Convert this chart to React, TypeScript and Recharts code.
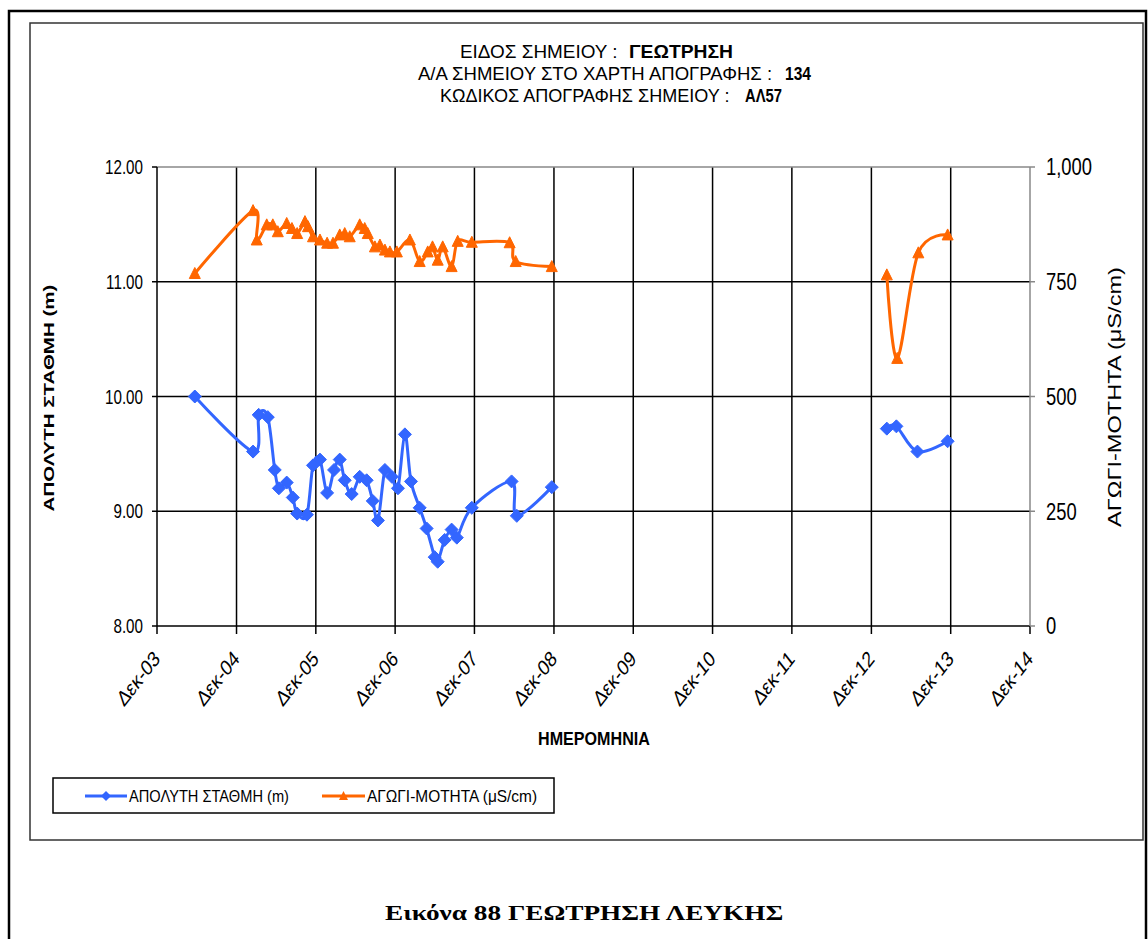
import React from 'react';
import { LineChart, Line, XAxis, YAxis, CartesianGrid, ReferenceLine, Label } from 'recharts';

// ---------- DATA ----------
const levelDates = [
  '2004-05-23', '2005-02-15', '2005-03-13', '2005-04-24', '2005-05-26', '2005-06-14', '2005-07-20',
  '2005-08-17', '2005-09-06', '2005-10-21', '2005-11-18', '2005-12-20', '2006-01-22', '2006-02-23',
  '2006-03-21', '2006-04-13', '2006-05-15', '2006-06-21', '2006-07-23', '2006-08-20', '2006-09-13',
  '2006-10-15', '2006-11-16', '2006-12-14', '2007-01-15', '2007-02-12', '2007-03-24', '2007-04-25',
  '2007-06-01', '2007-06-15', '2007-07-17', '2007-08-18', '2007-09-11', '2007-11-19', '2008-05-20',
  '2008-06-13', '2008-11-21', '2010-06-01', '2013-02-10', '2013-03-26', '2013-07-01', '2013-11-17',
];
const levelValues: (number | null)[] = [
  10.0, 9.52, 9.84, 9.82, 9.36, 9.2, 9.25,
  9.12, 8.98, 8.97, 9.4, 9.45, 9.16, 9.36,
  9.45, 9.27, 9.15, 9.3, 9.27, 9.09, 8.92,
  9.36, 9.3, 9.2, 9.67, 9.26, 9.03, 8.85,
  8.6, 8.56, 8.75, 8.84, 8.77, 9.03, 9.26,
  8.96, 9.21, null, 9.72, 9.74, 9.52, 9.61,
];

const condDates = [
  '2004-05-23', '2005-02-15', '2005-03-04', '2005-04-19', '2005-05-17', '2005-06-09', '2005-07-20',
  '2005-08-13', '2005-09-06', '2005-10-12', '2005-10-26', '2005-11-18', '2005-12-20', '2006-01-22',
  '2006-02-18', '2006-03-21', '2006-04-13', '2006-05-06', '2006-06-21', '2006-07-14', '2006-07-28',
  '2006-08-30', '2006-09-22', '2006-10-15', '2006-11-07', '2006-12-09', '2007-02-07', '2007-03-24',
  '2007-04-30', '2007-05-22', '2007-06-15', '2007-07-08', '2007-08-18', '2007-09-15', '2007-11-19',
  '2008-05-11', '2008-06-08', '2008-11-21', '2010-06-01', '2013-02-10', '2013-03-30', '2013-07-05',
  '2013-11-17',
];
const condValues: (number | null)[] = [
  768, 905, 841, 874, 874, 859, 877,
  866, 855, 881, 870, 848, 841, 834,
  834, 852, 855, 848, 874, 866, 855,
  826, 830, 819, 815, 815, 841, 794,
  815, 826, 797, 826, 783, 838, 836,
  835, 794, 783, null, 765, 583, 813,
  852,
];

const xTickDates = [
  '2003-12-01', '2004-12-01', '2005-12-01', '2006-12-01', '2007-12-01', '2008-12-01',
  '2009-12-01', '2010-12-01', '2011-12-01', '2012-12-01', '2013-12-01', '2014-12-01',
];
const xTickLabels = [
  'Δεκ-03', 'Δεκ-04', 'Δεκ-05', 'Δεκ-06', 'Δεκ-07', 'Δεκ-08',
  'Δεκ-09', 'Δεκ-10', 'Δεκ-11', 'Δεκ-12', 'Δεκ-13', 'Δεκ-14',
];
const leftTicks = [8, 9, 10, 11, 12];
const rightTicks = [0, 250, 500, 750, 1000];
const gridLeftValues = [9, 10, 11];

const titleLine1 = ['ΕΙΔΟΣ ΣΗΜΕΙΟΥ :', 'ΓΕΩΤΡΗΣΗ'];
const titleLine2 = ['Α/Α ΣΗΜΕΙΟΥ ΣΤΟ ΧΑΡΤΗ ΑΠΟΓΡΑΦΗΣ  :', '134'];
const titleLine3 = ['ΚΩΔΙΚΟΣ ΑΠΟΓΡΑΦΗΣ  ΣΗΜΕΙΟΥ :', 'ΑΛ57'];
const leftAxisTitle = 'ΑΠΟΛΥΤΗ ΣΤΑΘΜΗ (m)';
const rightAxisTitle = 'ΑΓΩΓΙ-ΜΟΤΗΤΑ  (μS/cm)';
const xAxisTitle = 'ΗΜΕΡΟΜΗΝΙΑ';
const legendLevel = 'ΑΠΟΛΥΤΗ ΣΤΑΘΜΗ (m)';
const legendCond = 'ΑΓΩΓΙ-ΜΟΤΗΤΑ (μS/cm)';
const caption = 'Εικόνα 88 ΓΕΩΤΡΗΣΗ ΛΕΥΚΗΣ';

// ---------- HELPERS ----------
const FONT = '"Liberation Sans", Arial, sans-serif';
const SERIF = '"Liberation Serif", "Times New Roman", serif';
const SQ = 0.76;
const BLUE = '#3366FF';
const ORANGE = '#FF6600';

const toTs = (s: string) => {
  const [y, m, d] = s.split('-').map(Number);
  return Date.UTC(y, m - 1, d);
};

const levelData = levelDates.map((d, i) => ({ t: toTs(d), level: levelValues[i] }));
const condData = condDates.map((d, i) => ({ t: toTs(d), cond: condValues[i] }));
const xTicks = xTickDates.map(toTs);

let measureCtx: CanvasRenderingContext2D | null = null;
const measure = (text: string, size: number, weight: string, family: string) => {
  if (!measureCtx) {
    const c = document.createElement('canvas');
    measureCtx = c.getContext('2d');
  }
  if (!measureCtx) return text.length * size * 0.6;
  measureCtx.font = `${weight} ${size}px ${family}`;
  return measureCtx.measureText(text).width;
};

// text squeezed/stretched horizontally to a target width (Excel-like condensed look)
const FitText = ({ text, x, y, width, size, weight = 'normal', family = FONT, anchor = 'start' }:
  { text: string; x: number; y: number; width: number; size: number; weight?: string; family?: string; anchor?: string }) => {
  const natural = measure(text, size, weight, family);
  const s = natural > 0 ? width / natural : 1;
  return (
    <g transform={`translate(${x},${y}) scale(${s},1)`}>
      <text x={0} y={0} fontSize={size} fontWeight={weight} fontFamily={family} fill="#000" textAnchor={anchor as any}>
        {text}
      </text>
    </g>
  );
};

// vertical (rotated) text of a given length, with a horizontal squeeze of its thickness
const VertText = ({ text, cx, cy, length, size, weight = 'normal' }:
  { text: string; cx: number; cy: number; length: number; size: number; weight?: string }) => {
  const natural = measure(text, size, weight, FONT);
  const s = natural > 0 ? length / natural : 1;
  return (
    <g transform={`translate(${cx},${cy}) scale(${SQ},1) rotate(-90) scale(${s},1)`}>
      <text x={0} y={0} textAnchor="middle" fontSize={size} fontWeight={weight} fontFamily={FONT} fill="#000">
        {text}
      </text>
    </g>
  );
};

// Excel-like smoothed line (uniform Catmull-Rom / cardinal with tension 0), as a d3 curve factory
function smoothCurve(context: any) {
  const k = 1 / 6;
  const s: any = {
    _context: context,
    _line: undefined as any,
    _point: 0,
    _x0: NaN, _x1: NaN, _x2: NaN, _y0: NaN, _y1: NaN, _y2: NaN,
  };
  const bez = (x: number, y: number) => {
    s._context.bezierCurveTo(
      s._x1 + k * (s._x2 - s._x0),
      s._y1 + k * (s._y2 - s._y0),
      s._x2 + k * (s._x1 - x),
      s._y2 + k * (s._y1 - y),
      s._x2,
      s._y2,
    );
  };
  s.areaStart = () => { s._line = 0; };
  s.areaEnd = () => { s._line = NaN; };
  s.lineStart = () => {
    s._x0 = s._x1 = s._x2 = s._y0 = s._y1 = s._y2 = NaN;
    s._point = 0;
  };
  s.lineEnd = () => {
    switch (s._point) {
      case 2: s._context.lineTo(s._x2, s._y2); break;
      case 3: bez(s._x1, s._y1); break;
      default: break;
    }
    if (s._line || (s._line !== 0 && s._point === 1)) s._context.closePath();
    s._line = 1 - s._line;
  };
  s.point = (xx: any, yy: any) => {
    const x = +xx;
    const y = +yy;
    switch (s._point) {
      case 0:
        s._point = 1;
        if (s._line) s._context.lineTo(x, y); else s._context.moveTo(x, y);
        break;
      case 1:
        s._point = 2;
        s._x1 = x; s._y1 = y;
        break;
      case 2:
        s._point = 3;
        bez(x, y);
        break;
      default:
        bez(x, y);
        break;
    }
    s._x0 = s._x1; s._x1 = s._x2; s._x2 = x;
    s._y0 = s._y1; s._y1 = s._y2; s._y2 = y;
  };
  return s;
}

const Diamond = (props: any) => {
  const { cx, cy, index, value } = props;
  if (cx == null || cy == null || value == null || Number.isNaN(cy)) return <g key={`dm${index}`} />;
  const r = 6.5;
  return (
    <polygon
      key={`dm${index}`}
      points={`${cx},${cy - r} ${cx + r},${cy} ${cx},${cy + r} ${cx - r},${cy}`}
      fill={BLUE}
      stroke={BLUE}
      strokeWidth={1}
    />
  );
};

const Triangle = (props: any) => {
  const { cx, cy, index, value } = props;
  if (cx == null || cy == null || value == null || Number.isNaN(cy)) return <g key={`tr${index}`} />;
  const w = 5.5;
  const h = 6;
  return (
    <polygon
      key={`tr${index}`}
      points={`${cx},${cy - h} ${cx + w},${cy + h - 1} ${cx - w},${cy + h - 1}`}
      fill={ORANGE}
      stroke={ORANGE}
      strokeWidth={1}
    />
  );
};

const XTick = (props: any) => {
  const { x, y, payload } = props;
  const i = xTicks.indexOf(payload.value);
  const label = i >= 0 ? xTickLabels[i] : '';
  return (
    <g transform={`translate(${x + 4},${y + 24}) scale(0.78,1) rotate(-45)`}>
      <text x={0} y={0} textAnchor="end" fontSize={22} fontFamily={FONT} fill="#000">
        {label}
      </text>
    </g>
  );
};

const LeftTick = (props: any) => {
  const { x, y, payload } = props;
  return (
    <g transform={`translate(${x},${y}) scale(${SQ},1)`}>
      <text x={0} y={0} dy="0.36em" textAnchor="end" fontSize={20} fontFamily={FONT} fill="#000">
        {Number(payload.value).toFixed(2)}
      </text>
    </g>
  );
};

const RightTick = (props: any) => {
  const { x, y, payload } = props;
  return (
    <g transform={`translate(${x},${y}) scale(0.8,1)`}>
      <text x={0} y={0} dy="0.36em" textAnchor="start" fontSize={23} fontFamily={FONT} fill="#000">
        {Number(payload.value).toLocaleString('en-US')}
      </text>
    </g>
  );
};

const LeftTitle = () => <VertText text={leftAxisTitle} cx={54} cy={398} length={227} size={20} weight="bold" />;
const RightTitle = () => <VertText text={rightAxisTitle} cx={1121} cy={397} length={268} size={24} />;
const BottomTitle = () => <FitText text={xAxisTitle} x={538} y={745} width={112} size={18} weight="bold" />;

const TitleLine = ({ parts, x1, w1, x2, w2, y }: { parts: string[]; x1: number; w1: number; x2: number; w2: number; y: number }) => (
  <g>
    <FitText text={parts[0]} x={x1} y={y} width={w1} size={19} />
    <FitText text={parts[1]} x={x2} y={y} width={w2} size={19} weight="bold" />
  </g>
);

export default function App() {
  return (
    <div style={{ position: 'absolute', left: 0, top: 0, width: 1148, height: 939, background: '#fff', overflow: 'hidden' }}>
      <svg width={1148} height={939} style={{ position: 'absolute', left: 0, top: 0 }}>
        <rect x={9} y={11} width={1137} height={940} fill="#fff" stroke="#000" strokeWidth={2.5} />
        <rect x={30} y={23} width={1113} height={817} fill="#fff" stroke="#333" strokeWidth={1.5} />
        <TitleLine parts={titleLine1} x1={460} w1={158} x2={629} w2={104} y={58} />
        <TitleLine parts={titleLine2} x1={418} w1={362} x2={785} w2={26} y={80} />
        <TitleLine parts={titleLine3} x1={440} w1={296} x2={745} w2={37} y={102} />
        {/* legend */}
        <rect x={53} y={778} width={501} height={35} fill="#fff" stroke="#000" strokeWidth={1.5} />
        <line x1={85} y1={796} x2={127} y2={796} stroke={BLUE} strokeWidth={3} />
        <polygon points="106,791 111,796 106,801 101,796" fill={BLUE} />
        <FitText text={legendLevel} x={129} y={802} width={160} size={16} />
        <line x1={322} y1={796} x2={365} y2={796} stroke={ORANGE} strokeWidth={3} />
        <polygon points="343.5,791 348,800 339,800" fill={ORANGE} />
        <FitText text={legendCond} x={367} y={802} width={171} size={16} />
        <FitText text={caption} x={385} y={920} width={400} size={22} weight="bold" family={SERIF} />
      </svg>
      <div style={{ position: 'absolute', left: 0, top: 0 }}>
        <LineChart width={1148} height={939} margin={{ top: 167, right: 20, bottom: 253, left: 20 }}>
          <CartesianGrid
            yAxisId="left"
            stroke="#000"
            strokeWidth={1.5}
            horizontalValues={gridLeftValues}
            verticalValues={xTicks.slice(1, 11)}
          />
          <ReferenceLine yAxisId="left" y={12} stroke="#888" strokeWidth={1.5} />
          <XAxis
            dataKey="t"
            type="number"
            domain={[xTicks[0], xTicks[11]]}
            ticks={xTicks}
            interval={0}
            allowDataOverflow
            height={60}
            tickSize={8}
            tickMargin={2}
            stroke="#000"
            strokeWidth={1.5}
            tickLine={{ stroke: '#000', strokeWidth: 1.5 }}
            tick={<XTick />}
          >
            <Label content={<BottomTitle />} />
          </XAxis>
          <YAxis
            yAxisId="left"
            orientation="left"
            type="number"
            domain={[8, 12]}
            ticks={leftTicks}
            interval={0}
            width={137}
            tickSize={5}
            tickMargin={9}
            stroke="#000"
            strokeWidth={1.5}
            tickLine={{ stroke: '#000', strokeWidth: 1.5 }}
            tick={<LeftTick />}
          >
            <Label content={<LeftTitle />} />
          </YAxis>
          <YAxis
            yAxisId="right"
            orientation="right"
            type="number"
            domain={[0, 1000]}
            ticks={rightTicks}
            interval={0}
            width={98}
            tickSize={5}
            tickMargin={11}
            stroke="#888"
            strokeWidth={1.5}
            tickLine={{ stroke: '#888', strokeWidth: 1.5 }}
            tick={<RightTick />}
          >
            <Label content={<RightTitle />} />
          </YAxis>
          <Line
            yAxisId="left"
            data={levelData}
            dataKey="level"
            type={smoothCurve as any}
            stroke={BLUE}
            strokeWidth={3}
            dot={<Diamond />}
            activeDot={false}
            connectNulls={false}
            isAnimationActive={false}
          />
          <Line
            yAxisId="right"
            data={condData}
            dataKey="cond"
            type={smoothCurve as any}
            stroke={ORANGE}
            strokeWidth={3}
            dot={<Triangle />}
            activeDot={false}
            connectNulls={false}
            isAnimationActive={false}
          />
        </LineChart>
      </div>
    </div>
  );
}
